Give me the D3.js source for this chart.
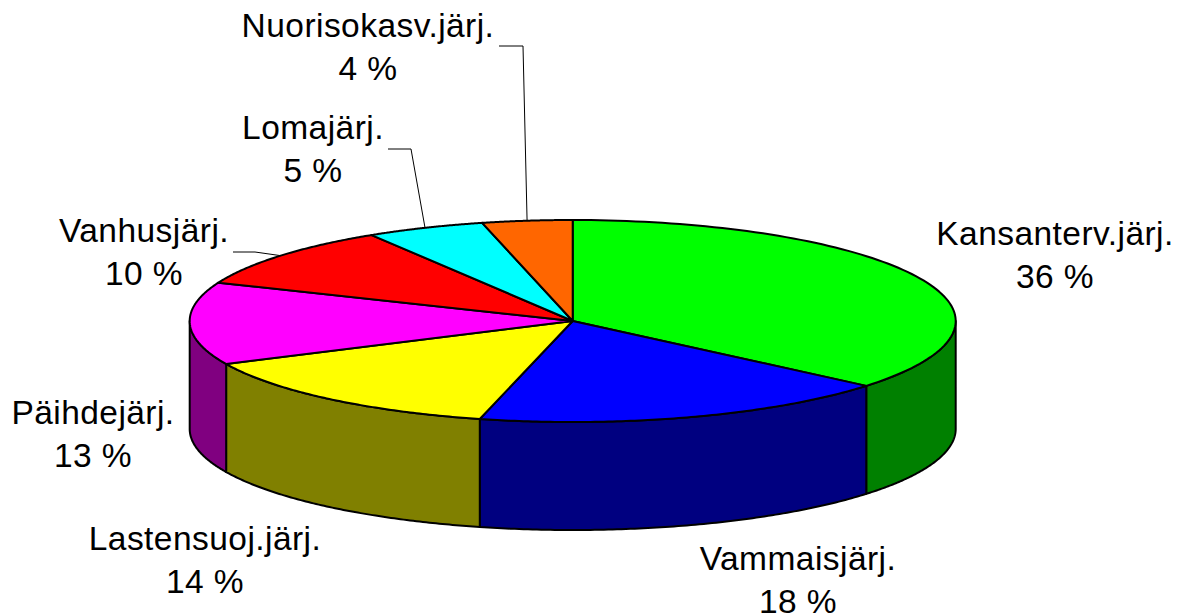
<!DOCTYPE html>
<html lang="fi">
  <head>
    <meta charset="UTF-8" />
    <title>Pie Chart</title>
    <script src="https://d3js.org/d3.v7.min.js"></script>
    <style>
      html, body { margin: 0; padding: 0; background: #fff; }
      svg { display: block; }
      text { font-family: "Liberation Sans", Arial, sans-serif; font-size: 33.5px; letter-spacing: 0.45px; fill: #000; }
    </style>
  </head>
  <body>
    <svg width="1178" height="615" id="chart"></svg>

    <script>
      // Data, clockwise from 12 o'clock
      const categories = ["Kansanterv.järj.", "Vammaisjärj.", "Lastensuoj.järj.", "Päihdejärj.", "Vanhusjärj.", "Lomajärj.", "Nuorisokasv.järj."];
      const values = [36.1, 17.8, 14.1, 13.2, 10, 5, 3.8];
      const topColors = ["#00ff00", "#0000ff", "#ffff00", "#ff00ff", "#ff0000", "#00ffff", "#ff6600"];
      const sideColors = ["#008000", "#000080", "#808000", "#800080", "#800000", "#008080", "#803300"];

      // Layout
      const cx = 572.7, cy = 321, rx = 383, ry = 101, depth = 108;
      const lineGap = 43;
      // label centre and first baseline per category
      const labelX = [1055, 798, 205, 93, 144, 313, 368];
      const labelY = [244.5, 569.5, 550, 424, 242, 138.5, 36.5];
      // leader elbows, only for the small slices: start x, elbow x, y
      const leaders = { 4: [233, 255, 252], 5: [388, 411, 149], 6: [499, 523, 46] };

      const svg = d3.select("#chart");

      const slices = d3.pie().sort(null)(values);

      // flatten the circle into an ellipse; a = 0 is up, clockwise
      const project = (a, dy = 0) => [cx + rx * Math.sin(a), cy - ry * Math.cos(a) + dy];
      const arcPoints = (a0, a1, dy) => d3.range(0, 97).map((i) => project(a0 + (a1 - a0) * i / 96, dy));

      const line = d3.line();
      const topFace = (d) => line([[cx, cy], ...arcPoints(d.startAngle, d.endAngle, 0)]) + "Z";

      // outer wall: only the part of a slice that faces the viewer (90 to 270 deg)
      const wall = (d) => {
        const a0 = Math.max(d.startAngle, Math.PI / 2);
        const a1 = Math.min(d.endAngle, Math.PI * 1.5);
        if (a1 <= a0) return null;
        return line([...arcPoints(a0, a1, 0), ...arcPoints(a1, a0, depth)]) + "Z";
      };

      svg.append("g").selectAll("path")
        .data(slices.filter(wall))
        .join("path")
        .attr("d", wall)
        .attr("fill", (d) => sideColors[d.index])
        .attr("stroke", "#000")
        .attr("stroke-width", 2)
        .attr("stroke-linejoin", "round");

      svg.append("g").selectAll("path")
        .data(slices)
        .join("path")
        .attr("d", topFace)
        .attr("fill", (d) => topColors[d.index])
        .attr("stroke", "#000")
        .attr("stroke-width", 2)
        .attr("stroke-linejoin", "round");

      // leader lines end at the middle of the slice edge
      svg.append("g").selectAll("path")
        .data(slices.filter((d) => leaders[d.index]))
        .join("path")
        .attr("d", (d) => {
          const [x0, x1, y] = leaders[d.index];
          return line([[x0, y], [x1, y], project((d.startAngle + d.endAngle) / 2)]);
        })
        .attr("fill", "none")
        .attr("stroke", "#000")
        .attr("stroke-width", 1);

      const labels = svg.append("g").selectAll("text")
        .data(slices)
        .join("text")
        .attr("text-anchor", "middle");

      labels.append("tspan")
        .attr("x", (d) => labelX[d.index])
        .attr("y", (d) => labelY[d.index])
        .text((d) => categories[d.index]);

      labels.append("tspan")
        .attr("x", (d) => labelX[d.index])
        .attr("y", (d) => labelY[d.index] + lineGap)
        .text((d) => Math.round(d.value) + " %");
    </script>
  </body>
</html>
